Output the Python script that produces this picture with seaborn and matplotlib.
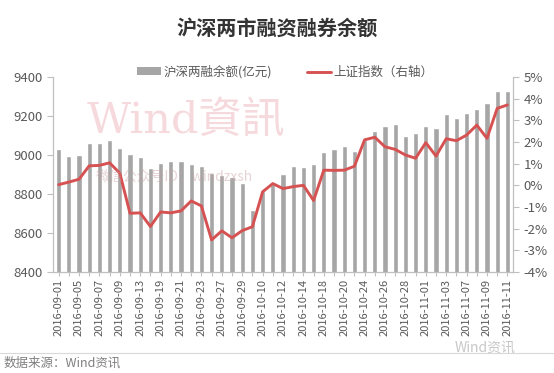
import matplotlib
matplotlib.use("Agg")
import matplotlib.pyplot as plt
import seaborn as sns
import numpy as np
import pandas as pd
from matplotlib.patches import Patch
from matplotlib.lines import Line2D
from matplotlib.ticker import FuncFormatter

dates = [
    "2016-09-01", "2016-09-02", "2016-09-05", "2016-09-06", "2016-09-07", "2016-09-08",
    "2016-09-09", "2016-09-12", "2016-09-13", "2016-09-14", "2016-09-19", "2016-09-20",
    "2016-09-21", "2016-09-22", "2016-09-23", "2016-09-26", "2016-09-27", "2016-09-28",
    "2016-09-29", "2016-09-30", "2016-10-10", "2016-10-11", "2016-10-12", "2016-10-13",
    "2016-10-14", "2016-10-17", "2016-10-18", "2016-10-19", "2016-10-20", "2016-10-21",
    "2016-10-24", "2016-10-25", "2016-10-26", "2016-10-27", "2016-10-28", "2016-10-31",
    "2016-11-01", "2016-11-02", "2016-11-03", "2016-11-04", "2016-11-07", "2016-11-08",
    "2016-11-09", "2016-11-10", "2016-11-11",
]
margin_balance = [
    9031, 8995, 8998, 9062, 9061, 9076, 9038, 9007, 8992, 8931, 8958, 8967,
    8971, 8956, 8945, 8908, 8898, 8886, 8856, 8720, 8817, 8850, 8903, 8946,
    8937, 8953, 9014, 9031, 9044, 9022, 9076, 9124, 9149, 9161, 9098, 9115,
    9149, 9137, 9212, 9188, 9215, 9234, 9269, 9327, 9327,
]
sh_index_pct = [
    0.03, 0.15, 0.28, 0.90, 0.92, 1.04, 0.56, -1.29, -1.27, -1.90, -1.23, -1.27,
    -1.18, -0.72, -0.95, -2.52, -2.10, -2.42, -2.09, -1.91, -0.30, 0.08, -0.15, -0.06,
    0.00, -0.70, 0.70, 0.69, 0.70, 0.88, 2.10, 2.22, 1.78, 1.66, 1.40, 1.25,
    1.97, 1.35, 2.15, 2.06, 2.32, 2.78, 2.17, 3.55, 3.71,
]
title = "沪深两市融资融券余额"
bar_label = "沪深两融余额(亿元)"
line_label = "上证指数（右轴）"
source = "数据来源：Wind资讯"

sns.set_theme(style="white")
plt.rcParams["font.family"] = ["Noto Sans CJK SC", "DejaVu Sans"]

BAR = "#a6a6a6"
RED = "#d65252"
TXT = "#595959"
AX = "#bfbfbf"

fig = plt.figure(figsize=(5.54, 3.73), dpi=100)
ax = fig.add_axes([53 / 554, 1 - 272 / 373, 460 / 554, 195 / 373])

df = pd.DataFrame({"date": dates, "value": margin_balance})
sns.barplot(data=df, x="date", y="value", ax=ax, color=BAR, saturation=1,
            width=0.5, order=dates)
ax.set_ylim(8400, 9400)
ax.set_yticks([8400, 8600, 8800, 9000, 9200, 9400])
ax.set_xlim(-0.55, len(dates) - 0.45)
ax.set_xlabel("")
ax.set_ylabel("")

ax2 = ax.twinx()
sns.lineplot(x=np.arange(len(dates)), y=sh_index_pct, ax=ax2, color=RED,
             linewidth=2.1)
ax2.set_ylim(-4, 5)
ax2.set_yticks(range(-4, 6))
ax2.yaxis.set_major_formatter(FuncFormatter(lambda v, p: f"{v:.0f}%"))
ax2.set_xlim(-0.55, len(dates) - 0.45)

ax.set_xticks(range(len(dates)))
ax.set_xticklabels([d if i % 2 == 0 else "" for i, d in enumerate(dates)],
                   rotation=90, fontsize=8, color=TXT)

for a in (ax, ax2):
    for s in a.spines.values():
        s.set_color(AX)
        s.set_linewidth(0.8)
    a.spines["top"].set_visible(False)
    a.grid(False)
ax.tick_params(axis="y", labelsize=9.5, colors=TXT, length=4, width=0.8,
               direction="out", left=True, color=AX)
ax.tick_params(axis="x", length=3, width=0.8, direction="out", bottom=True,
               color=AX, pad=2)
ax2.tick_params(axis="y", labelsize=9.5, colors=TXT, length=4, width=0.8,
                direction="out", right=True, color=AX)
ax.tick_params(axis="y", labelcolor=TXT)
ax2.tick_params(axis="y", labelcolor=TXT)

# title and legend
fig.text(0.5, 1 - 28 / 373, title, ha="center", va="center", fontsize=14.5,
         fontweight="bold", color="#333333")
handles = [Patch(facecolor=BAR, edgecolor="none", label=bar_label),
           Line2D([0], [0], color=RED, linewidth=2.1, label=line_label)]
fig.legend(handles=handles, loc="center", bbox_to_anchor=(0.515, 1 - 72 / 373),
           ncol=2, frameon=False, fontsize=9, handlelength=1.9, handleheight=0.6,
           columnspacing=2.8, handletextpad=0.2, labelcolor=TXT)

# watermarks
fig.text(0.335, 1 - 122 / 373, "Wind資訊", ha="center", va="center", fontsize=31,
         color="#e8a0a8", alpha=0.4, family=["DejaVu Serif", "Noto Sans CJK TC"],
         zorder=10)
fig.text(0.315, 1 - 177 / 373, "微信公众号ID：windzxsh", ha="center", va="center",
         fontsize=10, color="#c9a0a4", alpha=0.45, zorder=10)
fig.text(0.875, 1 - 348 / 373, "Wind资讯", ha="center", va="center", fontsize=10,
         color="#c8c8c8", zorder=10)

# source line
fig.add_artist(Line2D([0, 1], [1 - 353 / 373, 1 - 353 / 373], color="#d9d9d9",
                      linewidth=0.8, transform=fig.transFigure))
fig.text(0.006, 1 - 363 / 373, source, ha="left", va="center", fontsize=9,
         color="#7f7f7f")

fig.savefig("out.png", dpi=100, facecolor="white")
